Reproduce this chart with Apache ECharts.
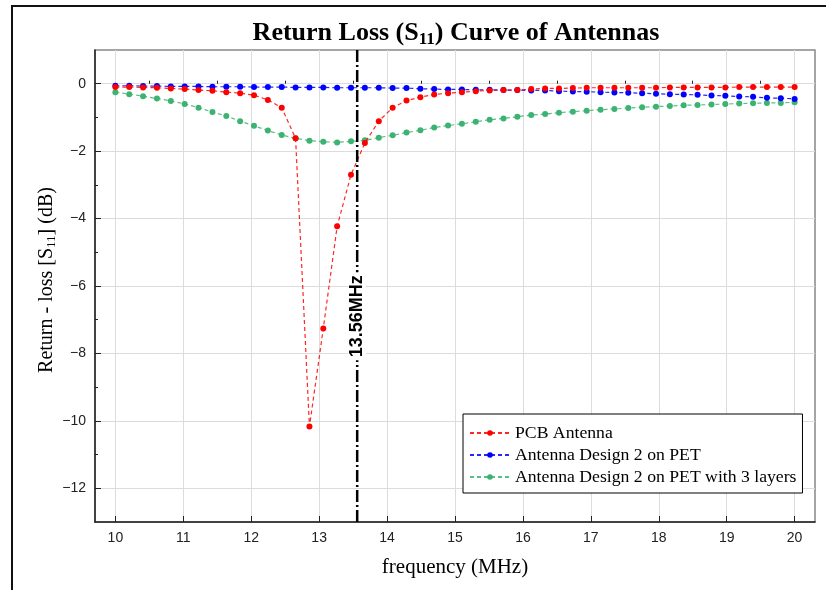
<!DOCTYPE html>
<html>
<head>
<meta charset="utf-8">
<script src="https://cdn.jsdelivr.net/npm/echarts@6/dist/echarts.min.js"></script>
<style>
html,body{margin:0;padding:0;background:#fff;}
#chart{width:826px;height:590px;}
</style>
</head>
<body>
<div id="chart"></div>
<script>
// ---- data ----
const freq = [10.000, 10.204, 10.408, 10.612, 10.816, 11.020, 11.224, 11.429, 11.633, 11.837,
  12.041, 12.245, 12.449, 12.653, 12.857, 13.061, 13.265, 13.469, 13.673, 13.878,
  14.082, 14.286, 14.490, 14.694, 14.898, 15.102, 15.306, 15.510, 15.714, 15.918,
  16.122, 16.327, 16.531, 16.735, 16.939, 17.143, 17.347, 17.551, 17.755, 17.959,
  18.163, 18.367, 18.571, 18.776, 18.980, 19.184, 19.388, 19.592, 19.796, 20.000];

const pcbAntenna = [-0.10, -0.10, -0.11, -0.12, -0.14, -0.16, -0.19, -0.21, -0.25, -0.28,
  -0.34, -0.48, -0.71, -1.62, -10.17, -7.26, -4.23, -2.70, -1.76, -1.11,
  -0.71, -0.50, -0.40, -0.32, -0.28, -0.25, -0.22, -0.20, -0.19, -0.19,
  -0.16, -0.14, -0.14, -0.13, -0.12, -0.12, -0.12, -0.12, -0.12, -0.12,
  -0.11, -0.11, -0.11, -0.11, -0.11, -0.10, -0.10, -0.10, -0.10, -0.10];

const design2PET = [-0.06, -0.06, -0.07, -0.07, -0.08, -0.08, -0.08, -0.09, -0.09, -0.09,
  -0.10, -0.10, -0.10, -0.11, -0.11, -0.11, -0.12, -0.12, -0.12, -0.12,
  -0.13, -0.13, -0.15, -0.16, -0.17, -0.17, -0.18, -0.18, -0.19, -0.19,
  -0.20, -0.20, -0.22, -0.23, -0.24, -0.25, -0.26, -0.27, -0.28, -0.30,
  -0.31, -0.32, -0.33, -0.35, -0.36, -0.38, -0.39, -0.42, -0.43, -0.45];

const design2PET3Layers = [-0.25, -0.31, -0.37, -0.44, -0.51, -0.60, -0.71, -0.84, -0.96, -1.11,
  -1.25, -1.39, -1.52, -1.62, -1.69, -1.72, -1.74, -1.71, -1.68, -1.60,
  -1.53, -1.45, -1.38, -1.30, -1.24, -1.19, -1.13, -1.07, -1.03, -0.98,
  -0.93, -0.90, -0.86, -0.83, -0.80, -0.77, -0.75, -0.72, -0.70, -0.68,
  -0.66, -0.64, -0.63, -0.62, -0.60, -0.59, -0.58, -0.57, -0.57, -0.55];

const seriesNames = ['PCB Antenna', 'Antenna Design 2 on PET', 'Antenna Design 2 on PET with 3 layers'];

const xTicks = [10, 11, 12, 13, 14, 15, 16, 17, 18, 19, 20];
const xMinorTicks = [10.5, 11.5, 12.5, 13.5, 14.5, 15.5, 16.5, 17.5, 18.5, 19.5];
const yTicks = [-12, -10, -8, -6, -4, -2, 0];
const yMinorTicks = [-11, -9, -7, -5, -3, -1];
const xRange = [9.7, 20.3];
const yRange = [-13, 1];

const markerFreq = 13.56;
const markerText = '13.56MHz';
const markerTextY = -6.9;

// ---- chart ----
const serif = '"Liberation Serif", "Times New Roman", serif';
const sans = '"Liberation Sans", Arial, sans-serif';

function pairs(ys) { return freq.map((x, i) => [x, ys[i]]); }
function fmtMinus(v) { return String(v).replace('-', '\u2212'); }

const colors = ['#ff0000', '#0000ff', '#3cb371'];
const dataSets = [pcbAntenna, design2PET, design2PET3Layers];

const lineSeries = seriesNames.map((name, k) => ({
  name: name,
  type: 'line',
  xAxisIndex: 0,
  yAxisIndex: 0,
  data: pairs(dataSets[k]),
  symbol: 'circle',
  symbolSize: 6,
  z: 3 + (2 - k),
  itemStyle: { color: colors[k] },
  lineStyle: { color: colors[k], width: 1.2, type: [4, 3], opacity: 0.85 }
}));

const chart = echarts.init(document.getElementById('chart'), null, { renderer: 'canvas' });
chart.setOption({
  animation: false,
  backgroundColor: '#ffffff',
  title: {
    text: 'Return Loss (S{sub|11}) Curve of Antennas',
    left: 451,
    top: 13,
    textAlign: 'center',
    textStyle: {
      fontFamily: serif, fontSize: 26, fontWeight: 'bold', color: '#000',
      rich: {
        sub: { fontFamily: serif, fontSize: 17, fontWeight: 'bold', color: '#000', padding: [13, 0, 0, 0] }
      }
    }
  },
  graphic: [{
    type: 'polyline',
    shape: { points: [[12, 590], [12, 6], [826, 6]] },
    style: { stroke: '#111', lineWidth: 2, fill: null },
    silent: true
  }],
  legend: {
    data: seriesNames,
    orient: 'vertical',
    left: 463,
    top: 414,
    padding: [10, 6, 7, 6],
    itemGap: 4,
    itemWidth: 40,
    itemHeight: 7,
    backgroundColor: '#fff',
    borderColor: '#000',
    borderWidth: 1,
    textStyle: { fontFamily: serif, fontSize: 17.7, color: '#000', padding: [0, 0, 0, 0], lineHeight: 18 }
  },
  grid: {
    left: 95, top: 50, right: 11, bottom: 68,
    show: true, borderColor: '#888', borderWidth: 1.5, backgroundColor: 'transparent'
  },
  xAxis: [{
    type: 'value',
    min: xRange[0], max: xRange[1],
    name: 'frequency (MHz)',
    nameLocation: 'middle',
    nameGap: 35,
    nameTextStyle: { fontFamily: serif, fontSize: 21, color: '#000' },
    axisLine: { show: true, onZero: false, lineStyle: { color: '#222', width: 1.5 } },
    axisTick: { show: true, inside: true, length: 6, customValues: xTicks, lineStyle: { color: '#222' } },
    axisLabel: { customValues: xTicks, margin: 9, fontFamily: sans, fontSize: 14, color: '#222' },
    splitLine: { show: true, lineStyle: { color: '#dcdcdc', width: 1 } }
  }, {
    type: 'value',
    min: xRange[0], max: xRange[1],
    position: 'bottom',
    axisLine: { show: false },
    axisTick: { show: true, inside: true, length: 3, customValues: xMinorTicks, lineStyle: { color: '#222' } },
    axisLabel: { show: false },
    splitLine: { show: false }
  }],
  yAxis: [{
    type: 'value',
    min: yRange[0], max: yRange[1],
    name: 'Return - loss [S{s|11}] (dB)',
    nameLocation: 'middle',
    nameGap: 37,
    nameMoveOverlap: false,
    nameTextStyle: {
      fontFamily: serif, fontSize: 20, color: '#000', padding: [0, 0, 0, 12],
      rich: { s: { fontFamily: serif, fontSize: 13, color: '#000', padding: [9, 0, 0, 0] } }
    },
    axisLine: { show: true, onZero: false, lineStyle: { color: '#222', width: 1.5 } },
    axisTick: { show: true, inside: true, length: 6, customValues: yTicks, lineStyle: { color: '#222' } },
    axisLabel: { customValues: yTicks, margin: 9, fontFamily: sans, fontSize: 14, color: '#222', formatter: fmtMinus },
    splitLine: { show: true, lineStyle: { color: '#dcdcdc', width: 1 } }
  }, {
    type: 'value',
    min: yRange[0], max: yRange[1],
    position: 'left',
    axisLine: { show: false },
    axisTick: { show: true, inside: true, length: 3, customValues: yMinorTicks, lineStyle: { color: '#222' } },
    axisLabel: { show: false },
    splitLine: { show: false }
  }],
  series: lineSeries.concat([{
    name: 'marker',
    type: 'line',
    xAxisIndex: 0, yAxisIndex: 0,
    data: [[markerFreq, yRange[1]], [markerFreq, yRange[0]]],
    symbol: 'none',
    silent: true,
    z: 8,
    lineStyle: { color: '#000', width: 2.5, type: [12, 3, 2, 3] }
  }, {
    name: 'markerLabel',
    type: 'scatter',
    xAxisIndex: 0, yAxisIndex: 0,
    data: [[markerFreq, markerTextY]],
    symbolSize: 0,
    silent: true,
    z: 9,
    itemStyle: { color: '#000', opacity: 1 },
    label: {
      show: true, position: 'inside', rotate: 90,
      formatter: markerText,
      fontFamily: sans, fontSize: 18, fontWeight: 'bold', color: '#000', opacity: 1,
      textBorderWidth: 0, textBorderColor: 'transparent',
      backgroundColor: '#fff', padding: [0, 3, 0, 3]
    }
  }])
});
</script>
</body>
</html>
